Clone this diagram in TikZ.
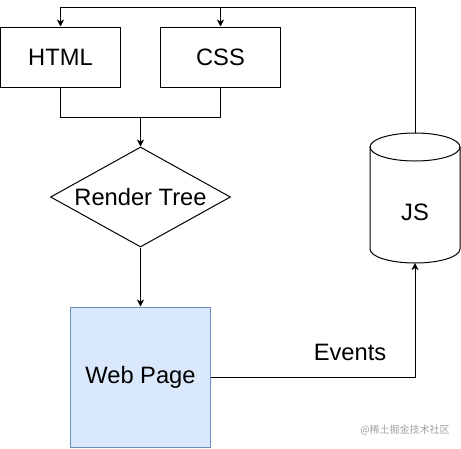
\documentclass[tikz,border=0pt]{standalone}
\usepackage{fontspec}
\setmainfont{Liberation Sans}
\newfontfamily\cjk{Noto Sans CJK SC}
\usetikzlibrary{shapes.geometric,arrows.meta}
\definecolor{pagefill}{HTML}{DAE8FC}
\definecolor{pagedraw}{HTML}{6C8EBF}
\definecolor{wmgray}{HTML}{A0A0A0}
\begin{document}
\begin{tikzpicture}[x=1pt,y=-1pt,
  every node/.style={inner sep=0pt},
  lbl/.style={font=\fontsize{23.7}{28}\selectfont},
  box/.style={draw, line width=1pt, minimum width=120pt, minimum height=60pt, lbl},
  conn/.style={line width=1pt},
  arr/.style={conn, -{Stealth[length=7pt,width=7pt,inset=2pt]}}]
\useasboundingbox (0,0) rectangle (461,448);
% nodes
\node[box] (html) at (60.5,57) {HTML};
\node[box] (css) at (220.5,57) {CSS};
\node[diamond, draw, line width=1pt, minimum width=180pt, minimum height=100pt] (rt) at (140.5,197) {};
\node[lbl] (rtlabel) at (rt.center) {Render Tree};
\node[draw=pagedraw, fill=pagefill, line width=1pt, minimum width=140pt, minimum height=140pt, lbl] (wp) at (140.5,377) {Web Page};
% JS cylinder
\draw[line width=1pt] (415,147) ellipse [x radius=45, y radius=14];
\draw[line width=1pt] (370,147) -- (370,249) arc[start angle=180, end angle=0, x radius=45, y radius=14] -- (460,147);
\node[lbl] (js) at (415,212) {JS};
\coordinate (jstop) at (415,133);
\coordinate (jsbot) at (415,263);
% connectors
\coordinate (tr) at (415,7);
\coordinate (mid) at (140.5,117);
\draw[arr] (jstop) -- (tr) -| (html.north);
\draw[arr] (tr) -| (css.north);
\draw[conn] (css.south) |- (mid);
\draw[arr] (html.south) |- (mid) -- (rt.north);
\draw[arr] (rt.south) -- (wp.north);
\draw[arr] (wp.east) -| (jsbot);
\node[lbl] (ev) at (350,352) {Events};
\node[font=\cjk\fontsize{10}{12}\selectfont, text=wmgray] (wm) at (405,430) {@稀土掘金技术社区};
\end{tikzpicture}
\end{document}
